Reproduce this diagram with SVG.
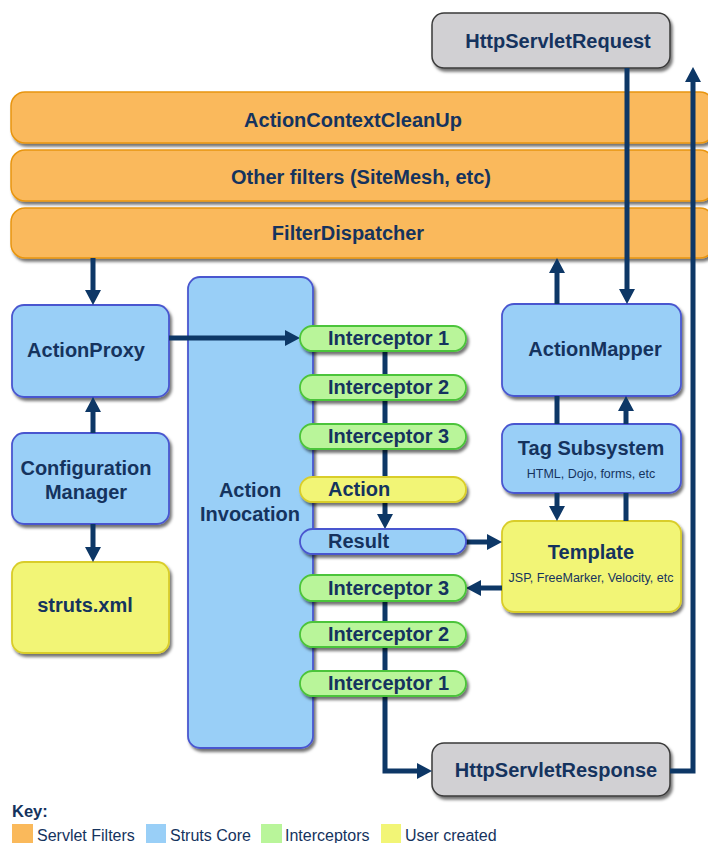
<svg xmlns="http://www.w3.org/2000/svg" width="708" height="843" viewBox="0 0 708 843">
  <defs>
    <filter id="shadow" x="-10%" y="-10%" width="130%" height="140%">
      <feDropShadow dx="2" dy="3" stdDeviation="1.6" flood-color="#000" flood-opacity="0.55"/>
    </filter>
    <marker id="arrow" markerUnits="userSpaceOnUse" markerWidth="16" markerHeight="16" refX="0" refY="8" orient="auto">
      <path d="M0,0 L15,8 L0,16 z" fill="#0d3766"/>
    </marker>
    <style>
      .filter { fill: #fab95b; stroke: #e8950f; stroke-width: 1.5; filter: url(#shadow); }
      .core { fill: #99cff7; stroke: #4a57cf; stroke-width: 1.8; filter: url(#shadow); }
      .user { fill: #f2f576; stroke: #d9cd2a; stroke-width: 1.8; filter: url(#shadow); }
      .inter { fill: #b9f59a; stroke: #4cc43a; stroke-width: 1.8; filter: url(#shadow); }
      .http { fill: #d1d0d3; stroke: #3a3a3a; stroke-width: 1.5; filter: url(#shadow); }
      .t { font-family: "Liberation Sans", Arial, sans-serif; font-weight: bold; font-size: 20px; fill: #15335e; }
      .c { text-anchor: middle; }
      .sub { font-family: "Liberation Sans", Arial, sans-serif; font-size: 12.5px; fill: #15335e; text-anchor: middle; }
      .key { font-family: "Liberation Sans", Arial, sans-serif; font-size: 16px; fill: #15335e; }
      .conn { fill: none; stroke: #0d3766; stroke-width: 5; }
      .arr { marker-end: url(#arrow); }
    </style>
  </defs>

  <!-- servlet filter chain -->
  <g id="actionContextCleanUp">
    <rect class="filter" x="11" y="92" width="703" height="51" rx="14"/>
    <text class="t c" x="353" y="127">ActionContextCleanUp</text>
  </g>
  <g id="otherFilters">
    <rect class="filter" x="11" y="150" width="703" height="51" rx="14"/>
    <text class="t c" x="361" y="184">Other filters (SiteMesh, etc)</text>
  </g>
  <g id="filterDispatcher">
    <rect class="filter" x="11" y="208" width="703" height="50" rx="14"/>
    <text class="t c" x="348" y="240">FilterDispatcher</text>
  </g>

  <!-- request / response -->
  <g id="httpServletRequest">
    <rect class="http" x="432" y="13" width="238" height="55" rx="12"/>
    <text class="t c" x="558" y="48">HttpServletRequest</text>
  </g>
  <g id="httpServletResponse">
    <rect class="http" x="432" y="743" width="238" height="53" rx="12"/>
    <text class="t c" x="556" y="777">HttpServletResponse</text>
  </g>

  <!-- core components -->
  <g id="actionProxy">
    <rect class="core" x="12" y="305" width="157" height="92" rx="12"/>
    <text class="t c" x="86" y="357">ActionProxy</text>
  </g>
  <g id="configurationManager">
    <rect class="core" x="12" y="433" width="157" height="91" rx="12"/>
    <text class="t c" x="86" y="475">Configuration</text>
    <text class="t c" x="86" y="499">Manager</text>
  </g>
  <g id="strutsXml">
    <rect class="user" x="12" y="562" width="157" height="91" rx="12"/>
    <text class="t c" x="85" y="612">struts.xml</text>
  </g>
  <g id="actionInvocation">
    <rect class="core" x="188" y="277" width="125" height="471" rx="12"/>
    <text class="t c" x="250" y="497">Action</text>
    <text class="t c" x="250" y="521">Invocation</text>
  </g>
  <g id="actionMapper">
    <rect class="core" x="502" y="304" width="179" height="92" rx="12"/>
    <text class="t c" x="595" y="356">ActionMapper</text>
  </g>
  <g id="tagSubsystem">
    <rect class="core" x="502" y="424" width="179" height="69" rx="12"/>
    <text class="t c" x="591" y="455">Tag Subsystem</text>
    <text class="sub" x="591" y="478">HTML, Dojo, forms, etc</text>
  </g>
  <g id="template">
    <rect class="user" x="502" y="521" width="179" height="91" rx="12"/>
    <text class="t c" x="591" y="559">Template</text>
    <text class="sub" x="591" y="582">JSP, FreeMarker, Velocity, etc</text>
  </g>

  <!-- connectors -->
  <g id="connectors">
    <path class="conn arr" d="M93,258 V290"/>
    <path class="conn arr" d="M93,433 V412"/>
    <path class="conn arr" d="M93,524 V547"/>
    <path class="conn arr" d="M169,338 H285"/>
    <path class="conn arr" d="M385,351 V514"/>
    <path class="conn arr" d="M385,601 V771 H417"/>
    <path class="conn arr" d="M466,542 H487"/>
    <path class="conn arr" d="M502,588 H481"/>
    <path class="conn arr" d="M670,771 H693 V82"/>
    <path class="conn arr" d="M627,68 V289"/>
    <path class="conn arr" d="M557,304 V273"/>
    <path class="conn" d="M557,396 V424"/>
    <path class="conn arr" d="M626,424 V411"/>
    <path class="conn arr" d="M557,493 V506"/>
    <path class="conn" d="M626,521 V493"/>
  </g>

  <!-- interceptor stack -->
  <g id="interceptor1In">
    <rect class="inter" x="300" y="326" width="166" height="25" rx="12.5"/>
    <text class="t" x="328" y="345">Interceptor 1</text>
  </g>
  <g id="interceptor2In">
    <rect class="inter" x="300" y="375" width="166" height="25" rx="12.5"/>
    <text class="t" x="328" y="394">Interceptor 2</text>
  </g>
  <g id="interceptor3In">
    <rect class="inter" x="300" y="424" width="166" height="25" rx="12.5"/>
    <text class="t" x="328" y="443">Interceptor 3</text>
  </g>
  <g id="action">
    <rect class="user" x="300" y="477" width="166" height="25" rx="12.5"/>
    <text class="t" x="328" y="496">Action</text>
  </g>
  <g id="result">
    <rect class="core" x="300" y="529" width="166" height="25" rx="12.5"/>
    <text class="t" x="328" y="548">Result</text>
  </g>
  <g id="interceptor3Out">
    <rect class="inter" x="300" y="575" width="166" height="26" rx="12.5"/>
    <text class="t" x="328" y="595">Interceptor 3</text>
  </g>
  <g id="interceptor2Out">
    <rect class="inter" x="300" y="622" width="166" height="25" rx="12.5"/>
    <text class="t" x="328" y="641">Interceptor 2</text>
  </g>
  <g id="interceptor1Out">
    <rect class="inter" x="300" y="671" width="166" height="25" rx="12.5"/>
    <text class="t" x="328" y="690">Interceptor 1</text>
  </g>

  <!-- legend -->
  <g id="legend">
    <text class="t" x="12" y="817" style="font-size:16.5px">Key:</text>
    <rect x="12" y="824" width="21" height="22" fill="#fab95b"/>
    <text class="key" x="37" y="841">Servlet Filters</text>
    <rect x="146" y="824" width="20" height="22" fill="#99cff7"/>
    <text class="key" x="170" y="841">Struts Core</text>
    <rect x="261" y="824" width="21" height="22" fill="#b9f59a"/>
    <text class="key" x="285" y="841">Interceptors</text>
    <rect x="381" y="824" width="20" height="22" fill="#f2f576"/>
    <text class="key" x="405" y="841">User created</text>
  </g>
</svg>
